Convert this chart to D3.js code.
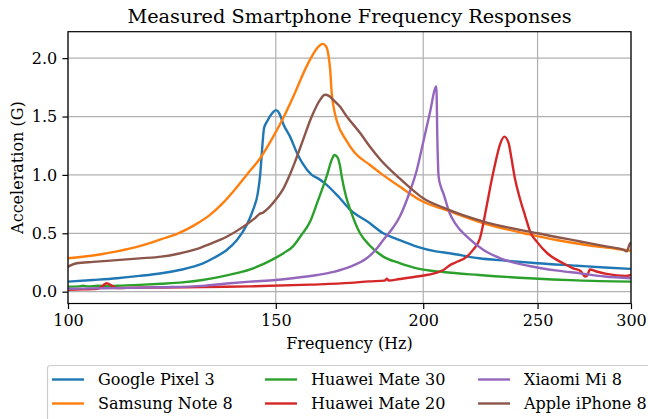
<!DOCTYPE html>
<html>
<head>
<meta charset="utf-8">
<script src="https://cdn.jsdelivr.net/npm/d3@7"></script>
<style>
  html, body { margin: 0; padding: 0; background: #fff; }
  svg { display: block; }
  text { font-family: "DejaVu Serif", serif; fill: #000; }
</style>
</head>
<body>
<svg id="chart" width="648" height="419"></svg>
<script>
// ---------- data ----------
const seriesNames = ["Google Pixel 3", "Samsung Note 8", "Huawei Mate 30", "Huawei Mate 20", "Xiaomi Mi 8", "Apple iPhone 8"];
const seriesColors = ["#1f77b4", "#ff7f0e", "#2ca02c", "#d62728", "#9467bd", "#8c564b"];

const pixelFreq = [100,105,110,115,120,125,127.7,130,133,136.3,139,141.7,143.5,144.8,145.5,146,146.6,147.5,149,150,151,152.3,154.2,156.3,158,160.9,163.1,165,170,173.5,180,185,190,197.5,205,210.6,223,235,250,270,285,300];
const pixelVal  = [0.086,0.10,0.115,0.135,0.158,0.19,0.214,0.24,0.29,0.357,0.44,0.57,0.70,0.84,1.0,1.2,1.40,1.46,1.53,1.555,1.53,1.43,1.33,1.19,1.10,1.00,0.966,0.93,0.80,0.70,0.59,0.50,0.45,0.386,0.345,0.329,0.286,0.265,0.243,0.222,0.207,0.195];

const note8Freq = [100,105,110,115,120,124,128,132,135,138.4,141.7,145.5,149.3,152.3,155.2,159.3,163.1,164.3,165.5,166.2,166.8,167.3,168,169,172,175,180,184,191,200,209,225,246,260,275,290,300];
const note8Val  = [0.286,0.31,0.345,0.39,0.45,0.50,0.57,0.66,0.75,0.871,1.0,1.143,1.33,1.494,1.67,1.93,2.10,2.122,2.10,2.03,1.90,1.70,1.57,1.46,1.30,1.19,1.09,1.015,0.90,0.77,0.70,0.586,0.49,0.44,0.40,0.37,0.35];

const mate30Freq = [100,102,103,104,106,108,110,115,120,125,130,136.3,142.7,145.5,148,152.3,155.2,157.3,160.4,162.6,165.8,167.3,168.2,169.2,170,170.6,172,173.5,176.8,180,185,191,197.5,208,223,246,270,300];
const mate30Val  = [0.043,0.045,0.05,0.045,0.05,0.048,0.05,0.058,0.068,0.08,0.10,0.14,0.19,0.225,0.26,0.33,0.39,0.47,0.60,0.76,1.0,1.13,1.171,1.15,1.08,0.985,0.82,0.70,0.50,0.40,0.30,0.245,0.20,0.168,0.143,0.115,0.097,0.086];

const mate20Freq = [100,103,106,107,107.8,109,110,112,120,130,142.7,160.5,173.5,180,185.5,186.3,187,191,197.5,205,208,210.6,213,217.8,220.5,223.3,226.3,228,230.2,232.5,234.3,236.3,237.5,239.3,241.5,244,246.5,250,254.8,262.8,268,272,274.2,275.5,276.9,280,286,297,300];
const mate20Val  = [0.015,0.02,0.025,0.05,0.072,0.05,0.03,0.032,0.036,0.04,0.045,0.06,0.075,0.088,0.095,0.11,0.095,0.108,0.13,0.16,0.186,0.225,0.25,0.30,0.36,0.45,0.728,0.90,1.10,1.27,1.328,1.27,1.15,0.96,0.80,0.65,0.51,0.42,0.329,0.243,0.20,0.175,0.13,0.14,0.19,0.175,0.152,0.134,0.143];

const mi8Freq = [100,105,110,120,130,136.3,142.7,150,155,162.6,168,173.5,179.1,182,185,188,191,194.9,197.5,200,202.6,205.2,205.6,206.1,207,208,210.6,213,217.8,225,232.5,246,260,271.7,285,300];
const mi8Val  = [0.025,0.028,0.03,0.038,0.05,0.07,0.086,0.10,0.115,0.143,0.17,0.214,0.286,0.35,0.443,0.53,0.64,0.86,1.04,1.28,1.53,1.757,1.3,0.985,0.90,0.843,0.672,0.58,0.471,0.357,0.286,0.22,0.18,0.157,0.13,0.115];

const iphone8Freq = [100,101.7,105,110,115,120,124,128,132,136.3,140.8,144.5,145.3,146.2,148,150.3,152.2,154,155.7,158.2,160.9,163.6,165.1,166.5,167.8,170,172.3,176.9,180.2,184,191,196,200,208,225,250,271.7,285,295.7,297.5,299.6,300];
const iphone8Val  = [0.214,0.243,0.255,0.27,0.285,0.30,0.325,0.36,0.41,0.47,0.557,0.643,0.666,0.675,0.72,0.80,0.88,0.99,1.11,1.30,1.50,1.645,1.686,1.675,1.643,1.585,1.50,1.357,1.243,1.13,0.97,0.87,0.80,0.72,0.60,0.50,0.43,0.39,0.357,0.345,0.415,0.415];

const xTicks = [100, 150, 200, 250, 300];
const yTicks = [0.0, 0.5, 1.0, 1.5, 2.0];

const allFreq = [pixelFreq, note8Freq, mate30Freq, mate20Freq, mi8Freq, iphone8Freq];
const allVal  = [pixelVal, note8Val, mate30Val, mate20Val, mi8Val, iphone8Val];

// ---------- layout ----------
const L = 68, R = 631, T = 31.7, B = 303.5;
const svg = d3.select("#chart");

const x = d3.scaleLog().domain([100, 300]).range([L, R]);
const y = d3.scaleLinear().domain([-0.1014, 2.2266]).range([B, T]);

// grid
const grid = svg.append("g");
grid.selectAll("line.gx").data(xTicks).enter().append("line")
  .attr("x1", d => x(d)).attr("x2", d => x(d)).attr("y1", T).attr("y2", B)
  .attr("stroke", "#b0b0b0").attr("stroke-width", 1.2);
grid.selectAll("line.gy").data(yTicks).enter().append("line")
  .attr("x1", L).attr("x2", R).attr("y1", d => y(d)).attr("y2", d => y(d))
  .attr("stroke", "#b0b0b0").attr("stroke-width", 1.2);

// lines
svg.append("defs").append("clipPath").attr("id", "clip")
  .append("rect").attr("x", L).attr("y", T).attr("width", R - L).attr("height", B - T);

const line = d3.line().x(d => x(d[0])).y(d => y(d[1])).curve(d3.curveMonotoneX);
const lines = svg.append("g").attr("clip-path", "url(#clip)");
seriesNames.forEach((name, i) => {
  const pts = allFreq[i].map((f, j) => [f, allVal[i][j]]);
  lines.append("path").datum(pts).attr("d", line)
    .attr("fill", "none").attr("stroke", seriesColors[i])
    .attr("stroke-width", 2.4).attr("stroke-linejoin", "round").attr("stroke-linecap", "square");
});

// axes
const fs = 16;
const xAxis = d3.axisBottom(x).tickValues(xTicks).tickFormat(d3.format("d")).tickSize(5.6).tickPadding(5.2);
const gx = svg.append("g").attr("transform", `translate(0,${B})`).call(xAxis);
const yAxis = d3.axisLeft(y).tickValues(yTicks).tickFormat(d3.format(".1f")).tickSize(5.6).tickPadding(5.2);
const gy = svg.append("g").attr("transform", `translate(${L},0)`).call(yAxis);
[gx, gy].forEach(g => {
  g.select(".domain").remove();
  g.selectAll(".tick line").attr("stroke", "#000").attr("stroke-width", 1.2);
  g.selectAll(".tick text").attr("font-family", "DejaVu Serif").attr("font-size", fs).attr("fill", "#000");
});

// spines
svg.append("rect").attr("x", L).attr("y", T).attr("width", R - L).attr("height", B - T)
  .attr("fill", "none").attr("stroke", "#000").attr("stroke-width", 1.2);

// labels
svg.append("text").attr("x", (L + R) / 2).attr("y", 23).attr("text-anchor", "middle")
  .attr("font-size", 19.3).text("Measured Smartphone Frequency Responses");
svg.append("text").attr("x", (L + R) / 2).attr("y", 349).attr("text-anchor", "middle")
  .attr("font-size", fs).text("Frequency (Hz)");
svg.append("text").attr("transform", `translate(23,${(T + B) / 2}) rotate(-90)`).attr("text-anchor", "middle")
  .attr("font-size", fs).text("Acceleration (G)");

// legend
const lg = svg.append("g");
lg.append("rect").attr("x", 47.5).attr("y", 365.5).attr("width", 620).attr("height", 70).attr("rx", 3)
  .attr("fill", "#fff").attr("fill-opacity", 0.8).attr("stroke", "#cccccc").attr("stroke-width", 1.2);
const colX = [52, 265, 478];
const rowY = [379.5, 403.5];
seriesNames.forEach((name, i) => {
  const c = Math.floor(i / 2), r = i % 2;
  lg.append("line").attr("x1", colX[c]).attr("x2", colX[c] + 32).attr("y1", rowY[r]).attr("y2", rowY[r])
    .attr("stroke", seriesColors[i]).attr("stroke-width", 2.4);
  lg.append("text").attr("x", colX[c] + 46).attr("y", rowY[r]).attr("dy", "0.35em")
    .attr("font-size", fs).text(name);
});
</script>
</body>
</html>
